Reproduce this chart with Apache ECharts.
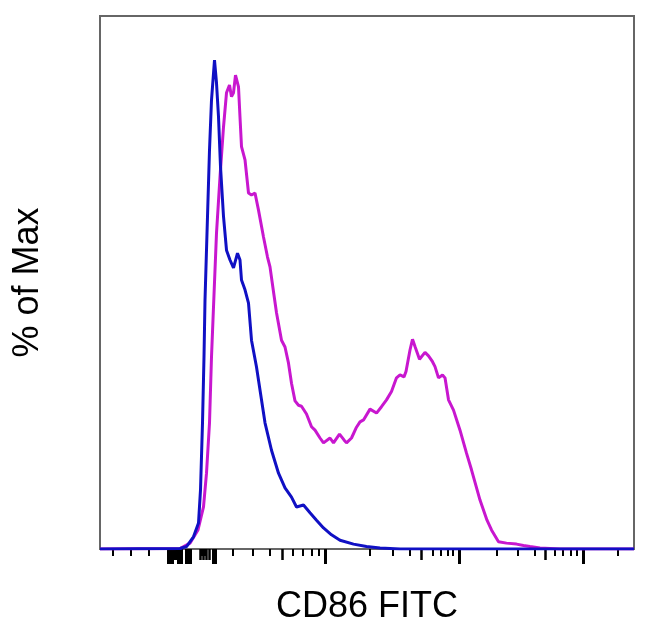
<!DOCTYPE html>
<html>
<head>
<meta charset="utf-8">
<script src="https://cdn.jsdelivr.net/npm/echarts@6/dist/echarts.min.js"></script>
<style>html,body{margin:0;padding:0;background:#fff}#c{width:650px;height:636px}</style>
</head>
<body>
<div id="c"></div>
<script>
// x = display channel (0..1068), y = % of Max
const xMin = 0, xMax = 1068;
const yMin = 0, yMax = 109;

const unstimulated = [ // blue
 [0,0],[160,0.1],[173,0.5],[187,2.5],[197,5.3],[201,12.1],[205,25.8],[208,39.3],[210,50.9],
 [215,68.0],[219,81.6],[223,91.8],[229,100],[233,95.3],[237,88.4],[241,78.2],[247,68.0],
 [253,61.1],[260,59.1],[267,57.5],[275,60.5],[280,59.1],[283,55.0],[290,53.0],[297,50.3],
 [303,42.7],[313,37.2],[320,32.5],[330,25.8],[343,20.2],[357,15.5],[370,12.5],[383,10.6],
 [393,8.6],[407,9.0],[420,7.4],[433,5.9],[447,4.3],[463,2.9],[480,1.8],[507,1.0],[533,0.5],
 [560,0.2],[600,0],[1068,0]
];

const stimulated = [ // magenta
 [0,0],[160,0.1],[180,1.2],[196,3.9],[207,8.6],[213,15.5],[219,25.8],[223,39.3],[227,49.5],
 [233,64.6],[240,76.1],[247,86.3],[253,93.3],[259,94.9],[263,92.5],[267,93.3],[271,96.9],
 [277,94.5],[280,88.3],[283,82.3],[290,79.6],[297,72.8],[303,72.4],[310,72.8],[317,69.3],
 [327,63.8],[335,59.7],[340,57.7],[347,52.6],[353,48.3],[363,42.7],[370,41.3],[377,38.0],
 [383,33.9],[390,30.3],[397,29.4],[403,29.2],[413,27.6],[423,25.0],[430,24.3],[440,22.7],
 [447,21.7],[460,22.7],[467,21.7],[479,23.5],[488,22.3],[493,21.7],[503,22.7],[513,24.9],
 [520,26.0],[527,26.4],[540,28.6],[553,27.8],[563,29.1],[573,30.5],[583,32.2],[593,35.0],
 [600,35.6],[608,35.2],[612,36.3],[620,40.7],[625,42.9],[630,41.4],[639,38.8],[643,38.8],
 [650,40.2],[657,39.5],[665,38.3],[670,37.3],[677,35.0],[685,35.6],[690,35.0],[697,30.5],
 [707,28.4],[720,24.3],[733,19.6],[743,16.2],[760,10.0],[774,5.9],[783,3.9],[797,1.5],
 [813,1.2],[833,1.0],[847,0.7],[860,0.5],[880,0.2],[920,0],[1068,0]
];

const minorTicks = [26,62,98,266,306,340,386,406,424,438,540,585,620,665,681,695,706,793,836,870,910,926,941,953,1036,204,210];
const mediumTicks = [148,152,200,206,212,218,365,643,890];
const majorTicks = [136,140,144,156,162,172,176,180,226,230,451,718,966];

const xTitle = 'CD86 FITC';
const yTitle = '% of Max';

function tickAxis(values, len, width, name) {
  return {
    type: 'value', gridIndex: 0, position: 'bottom', min: xMin, max: xMax,
    axisLine: { show: false }, splitLine: { show: false },
    axisLabel: { show: false },
    axisTick: { show: true, customValues: values, length: len, inside: false,
      lineStyle: { color: '#000', width: width } },
    name: name || '', nameLocation: 'middle', nameGap: 40,
    nameTextStyle: { fontFamily: 'Liberation Sans, Arial, sans-serif', fontSize: 36, color: '#000' }
  };
}

const chart = echarts.init(document.getElementById('c'), null, { renderer: 'canvas' });
chart.setOption({
  animation: false,
  backgroundColor: '#fff',
  grid: { left: 100, right: 16, top: 16, bottom: 87, show: true, borderColor: '#666', borderWidth: 2, backgroundColor: 'transparent' },
  xAxis: [
    tickAxis(minorTicks, 7, 2, xTitle),
    tickAxis(mediumTicks, 11, 2.5),
    tickAxis(majorTicks, 15, 3)
  ],
  yAxis: {
    type: 'value', min: yMin, max: yMax,
    axisLine: { show: false }, axisTick: { show: false }, axisLabel: { show: false }, splitLine: { show: false },
    name: yTitle, nameLocation: 'middle', nameGap: 54, nameRotate: 90,
    nameTextStyle: { fontFamily: 'Liberation Sans, Arial, sans-serif', fontSize: 36, color: '#000' }
  },
  series: [
    { type: 'line', xAxisIndex: 0, data: stimulated, showSymbol: false, lineStyle: { color: '#c817cf', width: 3 }, z: 3 },
    { type: 'line', xAxisIndex: 0, data: unstimulated, showSymbol: false, lineStyle: { color: '#1010c4', width: 3 }, z: 4 }
  ]
});
</script>
</body>
</html>
